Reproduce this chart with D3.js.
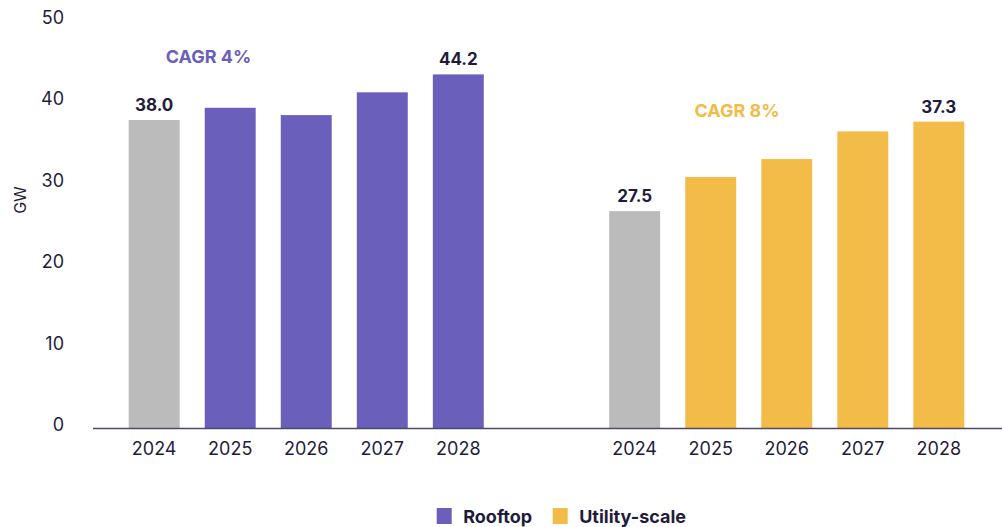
<!DOCTYPE html>
<html>
<head>
<meta charset="utf-8">
<script src="https://cdn.jsdelivr.net/npm/d3@7"></script>
<style>
  body { margin: 0; background: #fff; }
  text { font-family: Inter, "Noto Sans", sans-serif; }
</style>
</head>
<body>
<div id="container"></div>
<script>
/* CONSTANTS AND DATA */
const width = 1002,
  height = 527,
  margin = { top: 21.5, bottom: 98.5, left: 93, right: 0 };

const years = ["2024", "2025", "2026", "2027", "2028"];
const segments = ["Rooftop", "Utility-scale"];
// bar heights (GW)
const rooftopValues = [37.9, 39.4, 38.5, 41.3, 43.5];
const utilityValues = [26.7, 30.9, 33.1, 36.5, 37.7];
// value labels that are printed above the first and last bar
const rooftopLabels = ["38.0", "", "", "", "44.2"];
const utilityLabels = ["27.5", "", "", "", "37.3"];
const cagrLabels = ["CAGR 4%", "CAGR 8%"];
const yTicks = [0, 10, 20, 30, 40, 50];

const segColors = ["#6a5fba", "#f3bb47"];
const baseColor = "#bbbbbb";
const ink = "#1f1c3b";

// build rows
const groups = segments.map((s, i) => ({
  segment: s,
  color: segColors[i],
  cagr: cagrLabels[i],
  bars: years.map((y, j) => ({
    year: y,
    value: i === 0 ? rooftopValues[j] : utilityValues[j],
    label: i === 0 ? rooftopLabels[j] : utilityLabels[j]
  }))
}));
// where the CAGR text sits: offset in bar steps from group start, height in GW
const cagrPos = [[1.05, 44.9], [1.68, 38.3]];

/* SCALES */
const yScale = d3.scaleLinear()
  .domain([0, 50])
  .range([height - margin.bottom, margin.top]);

const groupScale = d3.scaleBand()
  .domain(segments)
  .range([128.7, 964.3])
  .paddingInner(0.261)
  .paddingOuter(0);

const barScale = d3.scaleBand()
  .domain(years)
  .range([0, groupScale.bandwidth()])
  .paddingInner(0.33)
  .paddingOuter(0);

/* SVG */
const svg = d3.select("#container")
  .append("svg")
  .attr("width", width)
  .attr("height", height);

// y axis labels (no axis line)
const yAxis = d3.axisLeft(yScale).tickValues(yTicks).tickSize(0).tickPadding(0);
const yAxisGroup = svg.append("g")
  .attr("transform", `translate(64, 2)`)
  .call(yAxis);
yAxisGroup.select(".domain").remove();
yAxisGroup.selectAll("text")
  .attr("dy", 0)
  .attr("font-size", 18)
  .attr("font-family", "Inter, 'Noto Sans', sans-serif")
  .attr("fill", ink);

svg.append("text")
  .attr("transform", `translate(26, 200) rotate(-90)`)
  .attr("text-anchor", "middle")
  .attr("font-size", 16)
  .attr("fill", ink)
  .text("GW");

// bars
const g = svg.selectAll("g.group")
  .data(groups)
  .join("g")
  .attr("class", "group")
  .attr("transform", d => `translate(${groupScale(d.segment)}, 0)`);

g.selectAll("rect")
  .data(d => d.bars.map(b => ({ ...b, color: d.color })))
  .join("rect")
  .attr("x", d => barScale(d.year))
  .attr("y", d => yScale(d.value))
  .attr("width", barScale.bandwidth())
  .attr("height", d => yScale(0) - yScale(d.value))
  .attr("fill", d => d.year === years[0] ? baseColor : d.color);

g.selectAll("text.val")
  .data(d => d.bars.filter(b => b.label !== ""))
  .join("text")
  .attr("class", "val")
  .attr("x", d => barScale(d.year) + barScale.bandwidth() / 2)
  .attr("y", d => yScale(d.value) - 9)
  .attr("text-anchor", "middle")
  .attr("font-size", 17)
  .attr("font-weight", 700)
  .attr("fill", ink)
  .text(d => d.label);

g.selectAll("text.year")
  .data(d => d.bars)
  .join("text")
  .attr("class", "year")
  .attr("x", d => barScale(d.year) + barScale.bandwidth() / 2)
  .attr("y", yScale(0) + 26.5)
  .attr("text-anchor", "middle")
  .attr("font-size", 18)
  .attr("fill", ink)
  .text(d => d.year);

g.append("text")
  .attr("x", (d, i) => barScale.step() * cagrPos[i][0])
  .attr("y", (d, i) => yScale(cagrPos[i][1]))
  .attr("text-anchor", "middle")
  .attr("font-size", 18)
  .attr("font-weight", 700)
  .attr("fill", d => d.color)
  .text(d => d.cagr);

// baseline
svg.append("line")
  .attr("x1", margin.left)
  .attr("x2", width)
  .attr("y1", yScale(0))
  .attr("y2", yScale(0))
  .attr("stroke", "#4d4a68")
  .attr("stroke-width", 1.5);

// legend
const legend = svg.append("g").attr("transform", "translate(436.7, 508)");
const legendX = [0, 116];
legend.selectAll("g")
  .data(groups)
  .join("g")
  .attr("transform", (d, i) => `translate(${legendX[i]}, 0)`)
  .call(sel => {
    sel.append("rect")
      .attr("width", 15)
      .attr("height", 16)
      .attr("fill", d => d.color);
    sel.append("text")
      .attr("x", 26.5)
      .attr("y", 14.5)
      .attr("font-size", 18)
      .attr("font-weight", 700)
      .attr("fill", ink)
      .text(d => d.segment);
  });
</script>
</body>
</html>
